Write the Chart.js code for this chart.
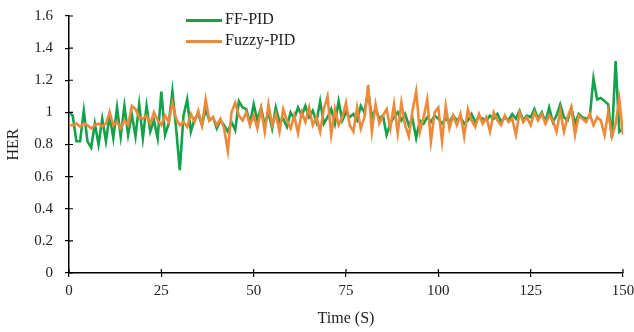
<!DOCTYPE html>
<html>
<head>
<meta charset="utf-8">
<script src="https://cdn.jsdelivr.net/npm/chart.js@4"></script>
<style>
  body { margin: 0; background: #fff; }
  #wrap { position: relative; width: 634px; height: 332px; }
  #legend { position: absolute; left: 186px; top: 8px; font-family: "Liberation Serif", serif; font-size: 16px; color: #222; }
  #legend div { height: 21px; line-height: 21px; }
  #legend span { display: inline-block; width: 36px; height: 3px; vertical-align: middle; margin-right: 3px; }
</style>
</head>
<body>
<div id="wrap">
  <canvas id="herChart" width="634" height="332"></canvas>
  <div id="legend">
    <div><span style="background:#13a24b"></span>FF-PID</div>
    <div><span style="background:#ef8838"></span>Fuzzy-PID</div>
  </div>
</div>
<script>
// time in seconds, one sample per second
const time = Array.from({ length: 151 }, (_, i) => i);

const ffPid = [
  1.00, 0.98, 0.82, 0.82, 1.01, 0.82, 0.78, 0.93, 0.80, 0.96,
  0.82, 0.98, 0.84, 1.03, 0.85, 1.04, 0.86, 0.99, 0.85, 1.05,
  0.84, 1.04, 0.88, 0.95, 0.84, 1.13, 0.86, 0.93, 1.13, 0.90,
  0.64, 0.98, 1.08, 0.88, 0.96, 0.99, 0.92, 1.02, 0.95, 0.97,
  0.90, 0.95, 0.92, 0.88, 0.94, 0.89, 1.07, 1.03, 1.02, 0.93,
  1.05, 0.95, 1.03, 0.92, 1.00, 0.90, 1.03, 0.94, 0.96, 0.91,
  1.00, 0.96, 1.03, 0.98, 1.04, 0.97, 1.01, 0.94, 1.07, 0.93,
  0.97, 1.02, 0.93, 1.07, 0.95, 1.00, 0.97, 0.99, 0.95, 1.04,
  1.00, 1.13, 0.97, 1.02, 0.96, 0.98, 0.86, 0.93, 0.97, 1.00,
  0.95, 0.99, 0.92, 0.96, 0.84, 0.95, 0.93, 0.97, 0.94, 0.98,
  0.96, 0.93, 0.96, 0.94, 0.98, 0.95, 0.97, 0.93, 0.95, 0.99,
  0.94, 0.97, 0.96, 0.95, 0.98, 0.96, 0.99, 0.94, 0.97, 0.95,
  0.99, 0.96, 1.01, 0.95, 0.98, 0.97, 1.02, 0.96, 1.00, 0.94,
  1.03, 0.94, 0.98, 1.05, 0.97, 0.95, 1.03, 0.93, 0.99, 0.97,
  0.96, 0.97, 1.21, 1.08, 1.09, 1.07, 1.05, 0.84, 1.32, 0.88,
  0.90
];

const fuzzyPid = [
  0.92, 0.92, 0.93, 0.91, 0.93, 0.92, 0.90, 0.92, 0.93, 0.91,
  0.93, 1.00, 0.92, 0.94, 0.90, 0.95, 0.92, 1.04, 1.02, 0.97,
  0.96, 0.98, 0.93, 1.00, 0.95, 0.92, 0.98, 0.94, 1.06, 0.96,
  0.92, 0.94, 0.91, 0.99, 0.94, 1.01, 0.92, 1.08, 0.95, 0.97,
  0.92, 0.96, 0.90, 0.76, 1.00, 1.06, 0.98, 0.95, 1.00, 0.92,
  0.98, 0.90, 1.02, 0.88, 1.05, 0.92, 0.99, 0.88, 1.02, 0.95,
  0.90, 0.98, 0.87, 1.00, 0.94, 1.03, 0.92, 0.97, 0.88, 1.02,
  1.10, 0.86, 1.02, 0.92, 0.97, 1.06, 0.92, 0.88, 1.03, 0.90,
  0.97, 1.17, 0.88, 1.05, 0.93, 0.98, 1.02, 0.90, 1.05, 0.87,
  1.06, 0.92, 0.85, 1.01, 1.13, 0.88, 0.97, 1.08, 0.82, 1.00,
  1.03, 0.82, 1.04, 0.90, 0.98, 0.92, 0.99, 0.85, 1.02, 0.95,
  0.91, 0.99, 0.93, 0.97, 0.88, 1.00, 0.95, 0.92, 0.98, 0.94,
  0.96, 0.86, 1.00, 0.94, 0.97, 0.92, 1.00, 0.95, 0.99, 0.93,
  0.98, 0.95, 0.88, 1.01, 0.88, 0.97, 1.03, 0.86, 0.98, 0.96,
  0.94, 0.99, 0.92, 0.97, 0.95, 0.86, 1.00, 0.85, 0.93, 1.08,
  0.86
];

const xTicks = [0, 25, 50, 75, 100, 125, 150];
const yTicks = [0, 0.2, 0.4, 0.6, 0.8, 1, 1.2, 1.4, 1.6];

const serif = '"Liberation Serif", "Times New Roman", serif';

function toPoints(values) {
  return values.map((v, i) => ({ x: time[i], y: v }));
}

// small "+" style ticks crossing the axes
const crossTicks = {
  id: 'crossTicks',
  afterDraw(chart) {
    const ctx = chart.ctx;
    const x = chart.scales.x, y = chart.scales.y;
    ctx.save();
    ctx.strokeStyle = '#000';
    ctx.lineWidth = 1.2;
    ctx.beginPath();
    yTicks.forEach(v => {
      const py = y.getPixelForValue(v);
      ctx.moveTo(x.left, py);
      ctx.lineTo(x.left + 4, py);
    });
    xTicks.forEach(v => {
      const px = x.getPixelForValue(v);
      ctx.moveTo(px, y.bottom);
      ctx.lineTo(px, y.bottom - 4);
    });
    ctx.stroke();
    ctx.restore();
  }
};

new Chart(document.getElementById('herChart'), {
  type: 'line',
  data: {
    datasets: [
      {
        label: 'FF-PID',
        data: toPoints(ffPid),
        borderColor: '#13a24b',
        borderWidth: 2.6,
        pointRadius: 0,
        tension: 0,
        order: 2
      },
      {
        label: 'Fuzzy-PID',
        data: toPoints(fuzzyPid),
        borderColor: '#ef8838',
        borderWidth: 2.6,
        pointRadius: 0,
        tension: 0,
        order: 1
      }
    ]
  },
  options: {
    responsive: false,
    animation: false,
    layout: { padding: { top: 16, right: 11, left: 0, bottom: 0 } },
    plugins: {
      legend: { display: false },
      tooltip: { enabled: false }
    },
    scales: {
      x: {
        type: 'linear',
        min: 0,
        max: 150,
        afterBuildTicks(scale) { scale.ticks = xTicks.map(v => ({ value: v })); },
        afterFit(scale) {
          scale.height = 59;
          scale.paddingLeft = 0;
          scale.paddingRight = 0;
        },
        grid: { display: true, drawOnChartArea: false, color: '#000', tickLength: 4, lineWidth: 1.2 },
        border: { color: '#000', width: 1.5 },
        ticks: { color: '#222', font: { family: serif, size: 15 }, padding: 5, maxRotation: 0 },
        title: { display: true, text: 'Time (S)', color: '#222', font: { family: serif, size: 16 }, padding: { top: 3 } }
      },
      y: {
        min: 0,
        max: 1.6,
        afterBuildTicks(scale) { scale.ticks = yTicks.map(v => ({ value: v })); },
        afterFit(scale) {
          scale.width = 69;
          scale.paddingTop = 0;
          scale.paddingBottom = 0;
        },
        grid: { display: true, drawOnChartArea: false, color: '#000', tickLength: 4, lineWidth: 1.2 },
        border: { color: '#000', width: 1.5 },
        ticks: {
          color: '#222',
          font: { family: serif, size: 15 },
          padding: 12,
          callback: v => String(Math.round(v * 10) / 10)
        },
        title: { display: true, text: 'HER', color: '#222', font: { family: serif, size: 16 }, padding: { bottom: 12 } }
      }
    }
  },
  plugins: [crossTicks]
});
</script>
</body>
</html>
